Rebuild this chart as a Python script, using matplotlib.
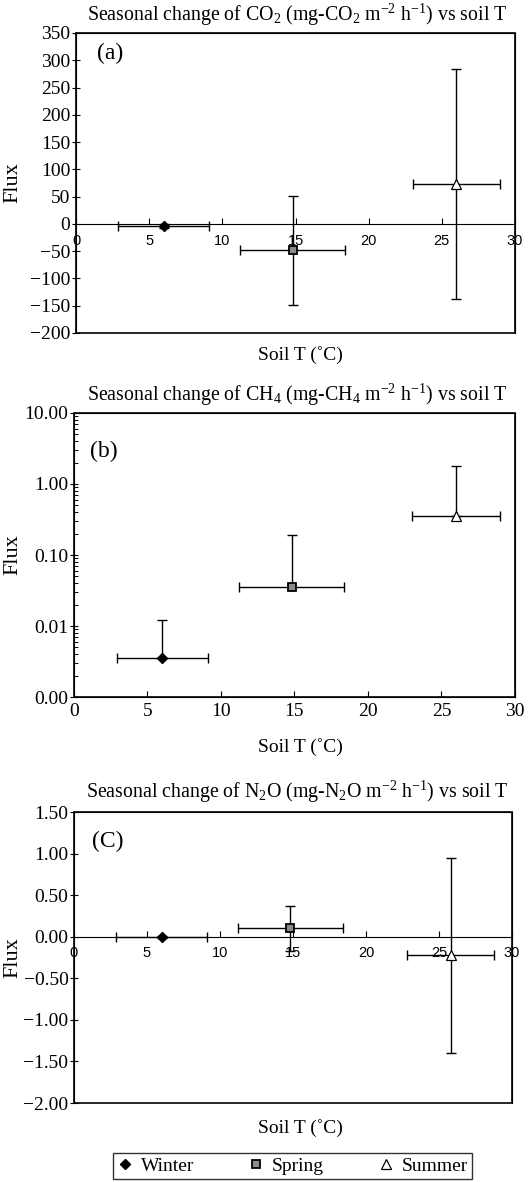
import matplotlib
matplotlib.use("Agg")
import matplotlib.pyplot as plt
from matplotlib.patches import Rectangle
from matplotlib.lines import Line2D
import numpy as np

plt.rcParams['font.family'] = ['Liberation Serif', 'DejaVu Serif']
plt.rcParams['mathtext.fontset'] = 'custom'
plt.rcParams['mathtext.rm'] = 'Liberation Serif'
plt.rcParams['mathtext.it'] = 'Liberation Serif:italic'

seasons = ["Winter", "Spring", "Summer"]
soil_t = [6.0, 14.8, 26.0]
soil_t_err = [3.1, 3.6, 3.0]

co2_flux = [-4.0, -48.0, 73.0]
co2_err = [3.0, 100.0, 211.0]

ch4_flux = [0.0035, 0.036, 0.36]
ch4_upper = [0.012, 0.19, 1.78]

n2o_x = [6.0, 14.8, 25.8]
n2o_xerr = [3.1, 3.6, 3.0]
n2o_flux = [0.0, 0.10, -0.225]
n2o_err = [0.01, 0.27, 1.175]

co2_yticks = list(range(-200, 351, 50))
ch4_yticks = [0.001, 0.01, 0.1, 1.0, 10.0]
ch4_ylabels = ["0.00", "0.01", "0.10", "1.00", "10.00"]
n2o_yticks = [-2.0, -1.5, -1.0, -0.5, 0.0, 0.5, 1.0, 1.5]
xticks = [0, 5, 10, 15, 20, 25, 30]

TICK_FS = 14
TITLE_FS = 14.3
LABEL_FS = 14
FLUX_FS = 16
PANEL_FS = 17
SANS_FS = 10.5

marker_style = {
    "Winter": dict(marker="D", ms=5.5, mfc="black", mec="black"),
    "Spring": dict(marker="s", ms=6, mfc="#8a8a8a", mec="black", mew=1.3),
    "Summer": dict(marker="^", ms=6.5, mfc="white", mec="black", mew=0.9),
}

fig = plt.figure(figsize=(5.30, 11.82), dpi=100)
W = 530.0
H = 1182.0

def frame(ax):
    ax.add_patch(Rectangle((0, 0), 1, 1, transform=ax.transAxes, fill=False,
                           lw=1.2, ec="black", zorder=5, clip_on=False))

def ytick_style(ax):
    ax.tick_params(axis="y", which="major", direction="inout", length=6, width=0.8,
                   labelsize=TICK_FS, pad=1)

def titles(title, title_y, xlabel_y):
    fig.text(0.561, 1 - title_y / H, title, ha="center", va="center", fontsize=TITLE_FS)
    fig.text(0.566, 1 - xlabel_y / H, "Soil T (\u02daC)", ha="center", va="center",
             fontsize=LABEL_FS)

def flux_label(ax):
    # Flux label right edge at ~22 px from the figure's left edge
    fig.text(22 / W, ax.get_position().y0 + ax.get_position().height / 2, "Flux",
             rotation=90, ha="right", va="center", fontsize=FLUX_FS)

# ---------- (a) CO2 ----------
axa = fig.add_axes([0.1434, 0.7183, 0.8283, 0.2538])
for i, s in enumerate(seasons):
    axa.errorbar(soil_t[i], co2_flux[i], xerr=soil_t_err[i], yerr=co2_err[i],
                 fmt="none", ecolor="black", elinewidth=1.0, capsize=3.5, capthick=1.0, zorder=3)
    axa.plot(soil_t[i], co2_flux[i], ls="none", zorder=4, **marker_style[s])
axa.set_xlim(0, 30)
axa.set_ylim(-200, 350)
axa.set_yticks(co2_yticks)
axa.set_yticklabels([("\u2212" + str(-v)) if v < 0 else str(v) for v in co2_yticks])
axa.spines["bottom"].set_position(("data", 0))
axa.set_xticks(xticks)
axa.tick_params(axis="x", direction="in", length=4, width=0.8, pad=7)
for lab in axa.get_xticklabels():
    lab.set_fontfamily("Liberation Sans")
    lab.set_fontsize(SANS_FS)
ytick_style(axa)
frame(axa)
axa.text(0.047, 0.933, "(a)", transform=axa.transAxes, fontsize=PANEL_FS, va="center")
flux_label(axa)
titles("Seasonal change of CO$_2$ (mg-CO$_2$ m$^{-2}$ h$^{-1}$) vs soil T", 15, 355)

# ---------- (b) CH4 ----------
axb = fig.add_axes([0.1396, 0.4103, 0.832, 0.2403])
for i, s in enumerate(seasons):
    up = ch4_upper[i] - ch4_flux[i]
    axb.errorbar(soil_t[i], ch4_flux[i], xerr=soil_t_err[i], yerr=[[0], [up]],
                 fmt="none", ecolor="black", elinewidth=1.0, capsize=3.5, capthick=1.0, zorder=3)
    axb.plot(soil_t[i], ch4_flux[i], ls="none", zorder=4, **marker_style[s])
axb.set_yscale("log")
axb.set_xlim(0, 30)
axb.set_ylim(0.001, 10)
axb.set_yticks(ch4_yticks)
axb.set_yticklabels(ch4_ylabels)
axb.set_xticks(xticks)
axb.tick_params(axis="x", direction="in", length=4, width=0.8, labelsize=TICK_FS, pad=4)
ytick_style(axb)
axb.tick_params(axis="y", which="minor", direction="in", length=3, width=0.7)
frame(axb)
axb.text(0.036, 0.866, "(b)", transform=axb.transAxes, fontsize=PANEL_FS, va="center")
flux_label(axb)
titles("Seasonal change of CH$_4$ (mg-CH$_4$ m$^{-2}$ h$^{-1}$) vs soil T", 395, 747)

# ---------- (c) N2O ----------
axc = fig.add_axes([0.1396, 0.0668, 0.8264, 0.2462])
for i, s in enumerate(seasons):
    axc.errorbar(n2o_x[i], n2o_flux[i], xerr=n2o_xerr[i], yerr=n2o_err[i],
                 fmt="none", ecolor="black", elinewidth=1.0, capsize=3.5, capthick=1.0, zorder=3)
    axc.plot(n2o_x[i], n2o_flux[i], ls="none", zorder=4, **marker_style[s])
axc.set_xlim(0, 30)
axc.set_ylim(-2.0, 1.5)
axc.set_yticks(n2o_yticks)
axc.set_yticklabels([("\u2212%.2f" % -v) if v < 0 else ("%.2f" % v) for v in n2o_yticks])
axc.spines["bottom"].set_position(("data", 0))
axc.set_xticks(xticks)
axc.tick_params(axis="x", direction="in", length=4, width=0.8, pad=7)
for lab in axc.get_xticklabels():
    lab.set_fontfamily("Liberation Sans")
    lab.set_fontsize(SANS_FS)
ytick_style(axc)
frame(axc)
axc.text(0.041, 0.90, "(C)", transform=axc.transAxes, fontsize=PANEL_FS, va="center")
flux_label(axc)
titles("Seasonal change of N$_2$O (mg-N$_2$O m$^{-2}$ h$^{-1}$) vs soil T", 792, 1128)

# ---------- legend ----------
handles = [Line2D([], [], ls="none", **marker_style[s]) for s in seasons]
leg = fig.legend(handles, seasons, loc="center", bbox_to_anchor=(0.552, 1 - 1166 / H),
                 ncol=3, frameon=True, fancybox=False, edgecolor="black", fontsize=14,
                 handlelength=0.8, handletextpad=0.4, columnspacing=2.8,
                 borderpad=0.2, borderaxespad=0)
leg.get_frame().set_linewidth(1.0)

fig.savefig("out.png", dpi=100)
